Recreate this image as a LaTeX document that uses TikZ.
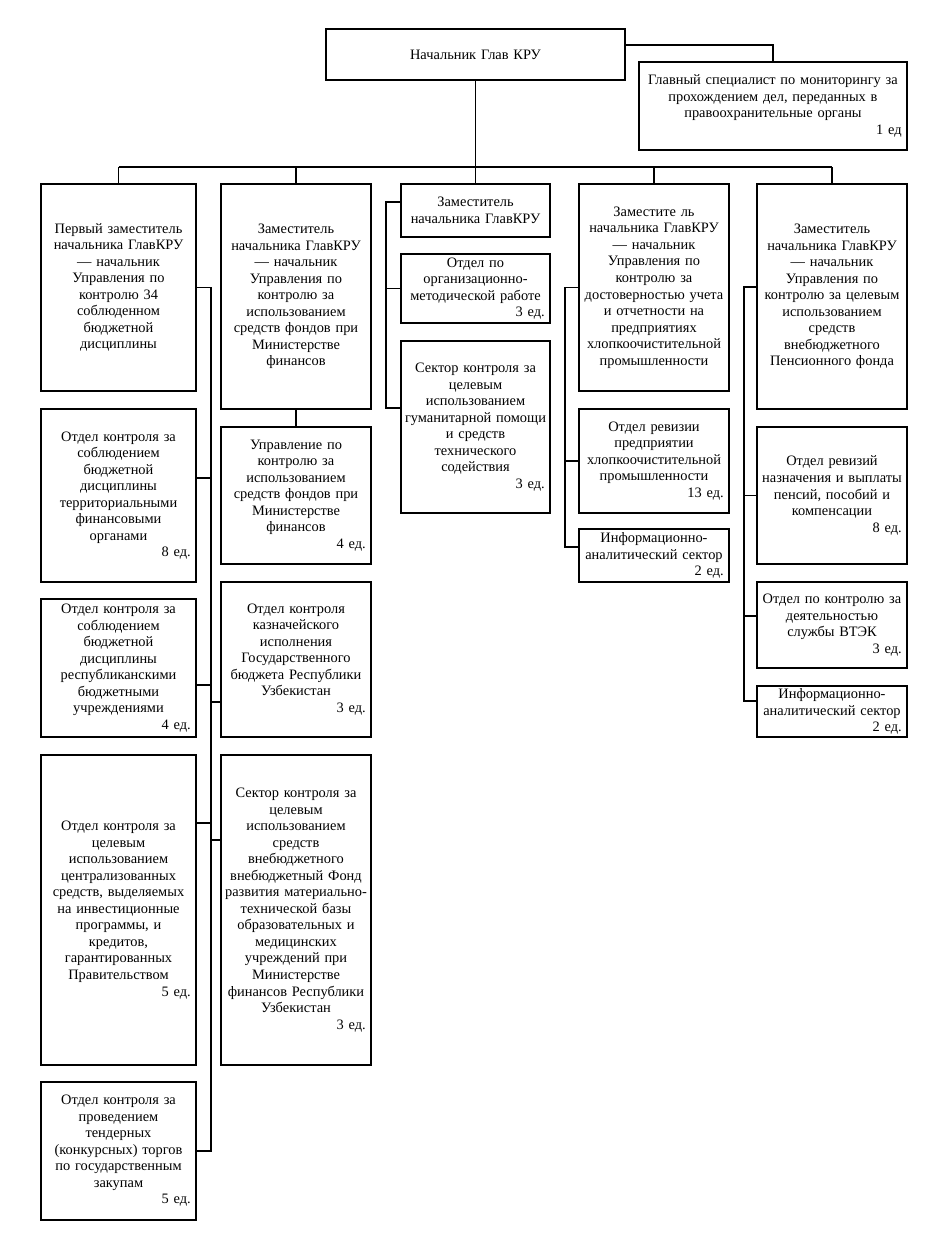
\documentclass[tikz,border=0pt]{standalone}
\usepackage{fontspec}
\setmainfont{Liberation Serif}
\tikzset{
  orgbox/.style={draw, line width=1.25pt, align=center, inner xsep=1.5pt, inner ysep=0pt,
    font=\fontsize{10.8}{12.4}\selectfont},
  link/.style={line width=0.85pt},
  buslink/.style={line width=1.2pt},
}
\newcommand\edline[1]{\\ \hfill\mbox{#1\kern2.5pt}}
\newcommand\obox[6]{%
  \pgfmathsetmacro\obw{(#4-#2)*0.75}%
  \pgfmathsetmacro\obh{(#5-#3)*0.75}%
  \pgfmathsetmacro\obt{(#4-#2-4)*0.75}%
  \node[orgbox, minimum width=\obw pt, minimum height=\obh pt, text width=\obt pt]
    (#1) at ({(#2+#4)/2},{(#3+#5)/2}) {#6};}
\begin{document}
\begin{tikzpicture}[x=0.75pt, y=-0.75pt]
\useasboundingbox (0,0) rectangle (938,1233);
% top
\obox{head}{326}{29}{625}{80}{Начальник Глав КРУ}
\obox{spec}{639}{62}{907}{150}{Главный специалист по мониторингу за\\прохождением дел, переданных в\\правоохранительные органы\edline{1 ед}}
% column 1
\obox{c1a}{41}{184}{196}{391}{Первый заместитель\\начальника ГлавКРУ\\— начальник\\Управления по\\контролю 34\\соблюденном\\бюджетной\\дисциплины}
\obox{c1b}{41}{409}{196}{582}{Отдел контроля за\\соблюдением\\бюджетной\\дисциплины\\территориальными\\финансовыми\\органами\edline{8 ед.}}
\obox{c1c}{41}{599}{196}{737}{Отдел контроля за\\соблюдением\\бюджетной\\дисциплины\\республиканскими\\бюджетными\\учреждениями\edline{4 ед.}}
\obox{c1d}{41}{755}{196}{1065}{Отдел контроля за\\целевым\\использованием\\централизованных\\средств, выделяемых\\на инвестиционные\\программы, и\\кредитов,\\гарантированных\\Правительством\edline{5 ед.}}
\obox{c1e}{41}{1082}{196}{1220}{Отдел контроля за\\проведением\\тендерных\\(конкурсных) торгов\\по государственным\\закупам\edline{5 ед.}}
% column 2
\obox{c2a}{221}{184}{371}{409}{Заместитель\\начальника ГлавКРУ\\— начальник\\Управления по\\контролю за\\использованием\\средств фондов при\\Министерстве\\финансов}
\obox{c2b}{221}{427}{371}{564}{Управление по\\контролю за\\использованием\\средств фондов при\\Министерстве\\финансов\edline{4 ед.}}
\obox{c2c}{221}{582}{371}{737}{Отдел контроля\\казначейского\\исполнения\\Государственного\\бюджета Республики\\Узбекистан\edline{3 ед.}}
\obox{c2d}{221}{755}{371}{1065}{Сектор контроля за\\целевым\\использованием\\средств\\внебюджетного\\внебюджетный Фонд\\развития материально-\\технической базы\\образовательных и\\медицинских\\учреждений при\\Министерстве\\финансов Республики\\Узбекистан\edline{3 ед.}}
% column 3
\obox{c3a}{401}{184}{550}{237}{Заместитель\\начальника ГлавКРУ}
\obox{c3b}{401}{254}{550}{323}{Отдел по\\организационно-\\методической работе\edline{3 ед.}}
\obox{c3c}{401}{341}{550}{513}{Сектор контроля за\\целевым\\использованием\\гуманитарной помощи\\и средств\\технического\\содействия\edline{3 ед.}}
% column 4
\obox{c4a}{579}{184}{729}{391}{Заместите ль\\начальника ГлавКРУ\\— начальник\\Управления по\\контролю за\\достоверностью учета\\и отчетности на\\предприятиях\\хлопкоочистительной\\промышленности}
\obox{c4b}{579}{409}{729}{513}{Отдел ревизии\\предприятии\\хлопкоочистительной\\промышленности\edline{13 ед.}}
\obox{c4c}{579}{529}{729}{582}{Информационно-\\аналитический сектор\edline{2 ед.}}
% column 5
\obox{c5a}{757}{184}{907}{409}{Заместитель\\начальника ГлавКРУ\\— начальник\\Управления по\\контролю за целевым\\использованием\\средств\\внебюджетного\\Пенсионного фонда}
\obox{c5b}{757}{427}{907}{564}{Отдел ревизий\\назначения и выплаты\\пенсий, пособий и\\компенсации\edline{8 ед.}}
\obox{c5c}{757}{582}{907}{668}{Отдел по контролю за\\деятельностью\\службы ВТЭК\edline{3 ед.}}
\obox{c5d}{757}{686}{907}{737}{Информационно-\\аналитический сектор\edline{2 ед.}}
% connectors: top
\coordinate (bus) at (0,167);
\coordinate (s1) at (211,0);
\coordinate (s3) at (386,0);
\coordinate (s4) at (565,0);
\coordinate (s5) at (744,0);
\draw[link] (head.east |- 0,45) -| (spec.north);
\draw[link] (head.south) -- (head.south |- bus);
\draw[buslink] (c1a.north |- bus) -- (c5a.north |- bus);
\foreach \n in {c1a,c2a,c3a,c4a,c5a} \draw[link] (\n.north) -- (\n.north |- bus);
\draw[link] (c2a.south) -- (c2b.north);
% column 1 and 2 spine
\draw[link] (c1a.east) -- (s1 |- c1a.east) -- (s1 |- c1e.east) -- (c1e.east);
\draw[link] (c1b.east |- 0,478) -- (s1 |- 0,478);
\draw[link] (c1c.east |- 0,685) -- (s1 |- 0,685);
\draw[link] (s1 |- 0,702) -- (c2c.west |- 0,702);
\draw[link] (c1d.east |- 0,823) -- (s1 |- 0,823);
\draw[link] (s1 |- 0,840) -- (c2d.west |- 0,840);
% column 3 spine
\draw[link] (c3a.west |- 0,202) -- (s3 |- 0,202) -- (s3 |- 0,408) -- (c3c.west |- 0,408);
\draw[link] (c3b.west) -- (s3 |- c3b.west);
% column 4 spine
\draw[link] (c4a.west) -- (s4 |- c4a.west) -- (s4 |- 0,547) -- (c4c.west |- 0,547);
\draw[link] (c4b.west) -- (s4 |- c4b.west);
% column 5 spine
\draw[link] (c5a.west |- 0,287) -- (s5 |- 0,287) -- (s5 |- 0,701) -- (c5d.west |- 0,701);
\draw[link] (c5b.west) -- (s5 |- c5b.west);
\draw[link] (c5c.west |- 0,616) -- (s5 |- 0,616);
\end{tikzpicture}
\end{document}
